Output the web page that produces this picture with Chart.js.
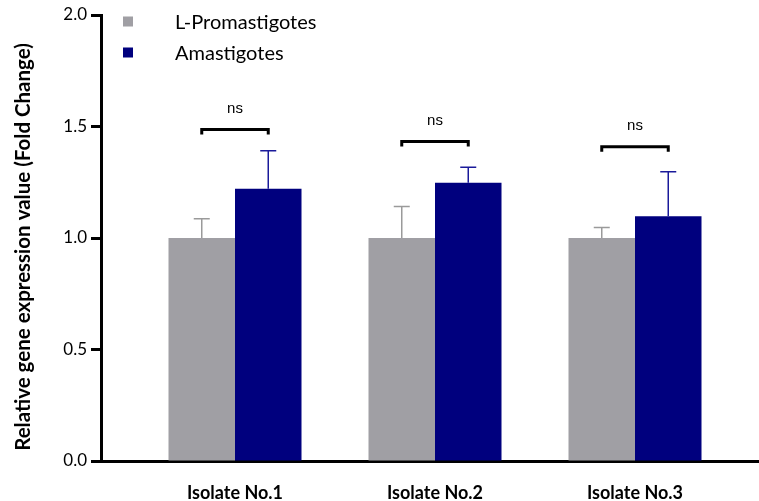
<!DOCTYPE html>
<html>
<head>
<meta charset="utf-8">
<script src="https://cdn.jsdelivr.net/npm/chart.js@4.4.1/dist/chart.umd.min.js"></script>
<style>
  body { margin: 0; background: #fff; }
</style>
</head>
<body>
<canvas id="myCanvas" width="759" height="501"></canvas>
<script>
const categories = ["Isolate No.1", "Isolate No.2", "Isolate No.3"];
const positions = [1, 2, 3];
const seriesNames = ["L-Promastigotes", "Amastigotes"];
const promastigotes = [1.0, 1.0, 1.0];
const promastigotesErr = [0.086, 0.141, 0.047];
const amastigotes = [1.221, 1.248, 1.098];
const amastigotesErr = [0.170, 0.069, 0.199];
const bracketLevels = [1.487, 1.433, 1.409];
const bracketLabels = ["ns", "ns", "ns"];
const yTicks = [0, 0.5, 1.0, 1.5, 2.0];
const yTitle = "Relative gene expression value (Fold Change)";

const grayColor = "#a09fa4";
const blueColor = "#00007e";
const FONT = "Lato, 'Open Sans', sans-serif";

// error bars (upper only) drawn on top of the bars
const errorBars = {
  id: "errorBars",
  afterDatasetsDraw(chart) {
    const ctx = chart.ctx;
    const y = chart.scales.y;
    chart.data.datasets.forEach((ds, di) => {
      const meta = chart.getDatasetMeta(di);
      meta.data.forEach((bar, i) => {
        const top = y.getPixelForValue(ds.data[i].y + ds.errors[i]);
        ctx.save();
        ctx.strokeStyle = ds.errorColor;
        ctx.lineWidth = 1.5;
        ctx.beginPath();
        ctx.moveTo(bar.x, bar.y);
        ctx.lineTo(bar.x, top);
        ctx.moveTo(bar.x - 8, top);
        ctx.lineTo(bar.x + 8, top);
        ctx.stroke();
        ctx.restore();
      });
    });
  }
};

// significance brackets with "ns"
const sigBrackets = {
  id: "sigBrackets",
  afterDatasetsDraw(chart) {
    const ctx = chart.ctx;
    const y = chart.scales.y;
    const a = chart.getDatasetMeta(0).data;
    const b = chart.getDatasetMeta(1).data;
    bracketLevels.forEach((lvl, i) => {
      const yy = y.getPixelForValue(lvl);
      ctx.save();
      ctx.strokeStyle = "#000";
      ctx.lineWidth = 3;
      ctx.beginPath();
      ctx.moveTo(a[i].x, yy + 5);
      ctx.lineTo(a[i].x, yy);
      ctx.lineTo(b[i].x, yy);
      ctx.lineTo(b[i].x, yy + 5);
      ctx.stroke();
      ctx.fillStyle = "#000";
      ctx.font = "15px Arial, 'Liberation Sans', sans-serif";
      ctx.textAlign = "center";
      ctx.textBaseline = "middle";
      ctx.fillText(bracketLabels[i], (a[i].x + b[i].x) / 2, yy - 21);
      ctx.restore();
    });
  }
};

// legend inside the plot (top-left) and the y title
const extras = {
  id: "extras",
  afterDraw(chart) {
    const ctx = chart.ctx;
    chart.data.datasets.forEach((ds, di) => {
      const cy = 21.5 + di * 31;
      ctx.save();
      ctx.fillStyle = ds.backgroundColor;
      ctx.fillRect(123, cy - 5, 10, 10);
      ctx.fillStyle = "#000";
      ctx.font = "20px " + FONT;
      ctx.textBaseline = "middle";
      ctx.fillText(ds.label, 175, cy + 1);
      ctx.restore();
    });
    ctx.save();
    ctx.translate(23, 247);
    ctx.rotate(-Math.PI / 2);
    ctx.fillStyle = "#000";
    ctx.font = "bold 20.5px " + FONT;
    ctx.textAlign = "center";
    ctx.textBaseline = "middle";
    ctx.fillText(yTitle, 0, 0);
    ctx.restore();
  }
};

const ctx = document.getElementById("myCanvas").getContext("2d");
new Chart(ctx, {
  type: "bar",
  data: {
    datasets: [
      {
        label: seriesNames[0],
        data: positions.map((p, i) => ({ x: p, y: promastigotes[i] })),
        errors: promastigotesErr,
        backgroundColor: grayColor,
        errorColor: "#9a9a9a",
        categoryPercentage: 0.665,
        barPercentage: 1.0
      },
      {
        label: seriesNames[1],
        data: positions.map((p, i) => ({ x: p, y: amastigotes[i] })),
        errors: amastigotesErr,
        backgroundColor: blueColor,
        errorColor: "#1a1a9a",
        categoryPercentage: 0.665,
        barPercentage: 1.0
      }
    ]
  },
  options: {
    responsive: false,
    animation: false,
    layout: { padding: { top: 15, right: 0, left: 0, bottom: 0 } },
    plugins: {
      legend: { display: false },
      tooltip: { enabled: false }
    },
    scales: {
      x: {
        type: "linear",
        offset: false,
        min: 0.33,
        max: 3.62,
        grid: { display: false },
        border: { display: true, color: "#000", width: 3 },
        afterBuildTicks: (scale) => {
          scale.ticks = positions.map((p) => ({ value: p }));
        },
        afterFit: (scale) => { scale.height = 40; },
        ticks: {
          padding: 13,
          color: "#000",
          font: { family: FONT, size: 18, weight: "bold" },
          callback: (v) => categories[positions.indexOf(v)] || ""
        }
      },
      y: {
        min: 0,
        max: 2,
        grid: {
          drawOnChartArea: false,
          drawTicks: true,
          tickLength: 10,
          tickWidth: 3,
          color: "#000"
        },
        border: { display: true, color: "#000", width: 3 },
        afterBuildTicks: (scale) => {
          scale.ticks = yTicks.map((v) => ({ value: v }));
        },
        afterFit: (scale) => { scale.width = 101; },
        ticks: {
          padding: 4,
          color: "#000",
          font: { family: FONT, size: 17 },
          callback: (v) => v.toFixed(1)
        }
      }
    }
  },
  plugins: [errorBars, sigBrackets, extras]
});
</script>
</body>
</html>
